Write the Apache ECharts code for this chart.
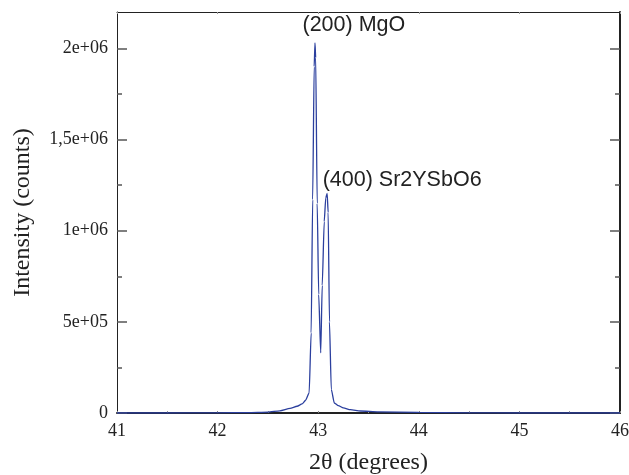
<!DOCTYPE html>
<html>
<head>
<meta charset="utf-8">
<script src="https://cdn.jsdelivr.net/npm/echarts@6/dist/echarts.min.js"></script>
<style>
  html, body { margin: 0; padding: 0; background: #fff; }
  #chart { width: 629px; height: 475px; }
</style>
</head>
<body>
<div id="chart"></div>
<script>
// X-ray diffraction scan around the MgO (200) / Sr2YSbO6 (400) reflections
const twoTheta = [
  41.0, 41.5, 42.0, 42.3, 42.5, 42.62, 42.72, 42.79, 42.84, 42.875,
  42.91, 42.93, 42.945, 42.96, 42.968, 42.975, 42.99, 43.005, 43.025,
  43.04, 43.06, 43.075, 43.089, 43.099, 43.112, 43.13, 43.16, 43.2,
  43.25, 43.32, 43.42, 43.6, 44.0, 44.5, 45.0, 46.0
];
const intensity = [
  0, 0, 800, 2500, 5000, 12000, 25000, 37000, 50000, 70000,
  110000, 440000, 1170000, 1900000, 2030000, 1950000, 1150000, 650000, 330000,
  700000, 1050000, 1180000, 1205000, 1100000, 500000, 130000, 55000, 40000,
  28000, 18000, 11000, 6000, 3000, 1000, 0, 0
];

const peakNames = ['(200) MgO', '(400) Sr2YSbO6'];

const xTicks = [41, 42, 43, 44, 45, 46];
const yTicks = [0, 500000, 1000000, 1500000, 2000000];
const yTickLabels = ['0', '5e+05', '1e+06', '1,5e+06', '2e+06'];
const yMinorTicks = [250000, 750000, 1250000, 1750000];

const points = twoTheta.map((t, i) => [t, intensity[i]]);

// local maxima of the scan above 5e5 counts, in 2θ order
const peakIdx = [];
for (let i = 1; i < intensity.length - 1; i++) {
  if (intensity[i] > intensity[i - 1] && intensity[i] >= intensity[i + 1] && intensity[i] > 500000) {
    peakIdx.push(i);
  }
}
const labelOffsets = [[-12, -6], [-4, -2]];

const serif = 'Liberation Serif, Times New Roman, serif';
const sans = 'Liberation Sans, Arial, Helvetica, sans-serif';

const chart = echarts.init(document.getElementById('chart'), null, { renderer: 'canvas' });

const yMajor = (pos, showLabels, lineW) => ({
  type: 'value', position: pos, min: 0, max: 2200000,
  axisLine: { show: true, onZero: false, lineStyle: { color: '#222', width: lineW } },
  axisTick: { show: true, inside: true, length: 10, customValues: yTicks, lineStyle: { color: '#555', width: 1.5 } },
  axisLabel: {
    show: showLabels, customValues: yTicks, margin: 9,
    fontFamily: serif, fontSize: 18, color: '#222',
    formatter: v => { const k = yTicks.indexOf(v); return k >= 0 ? yTickLabels[k] : ''; }
  },
  splitLine: { show: false },
  name: showLabels ? 'Intensity (counts)' : '',
  nameLocation: 'middle', nameGap: 82, nameRotate: 90,
  nameTextStyle: { fontFamily: serif, fontSize: 24, color: '#222' }
});
const yMinor = pos => ({
  type: 'value', position: pos, min: 0, max: 2200000,
  axisLine: { show: false },
  axisTick: { show: true, inside: true, length: 5, customValues: yMinorTicks, lineStyle: { color: '#555', width: 1.5 } },
  axisLabel: { show: false },
  splitLine: { show: false }
});

chart.setOption({
  animation: false,
  backgroundColor: '#fff',
  grid: { left: 117, right: 9, top: 12, bottom: 62, outerBoundsMode: 'none', containLabel: false },
  xAxis: [
    {
      type: 'value', position: 'bottom', min: 41, max: 46, interval: 1,
      axisLine: { show: true, onZero: false, lineStyle: { color: '#222', width: 2 } },
      axisTick: { show: true, inside: true, length: 2, customValues: xTicks, lineStyle: { color: '#888' } },
      minorTick: { show: true, splitNumber: 2, length: 2, lineStyle: { color: '#999' } },
      axisLabel: { margin: 9, fontFamily: serif, fontSize: 18, color: '#222' },
      splitLine: { show: false },
      name: '2θ (degrees)', nameLocation: 'middle', nameGap: 38,
      nameTextStyle: { fontFamily: serif, fontSize: 24, color: '#222' }
    },
    {
      type: 'value', position: 'top', min: 41, max: 46, interval: 1,
      axisLine: { show: true, onZero: false, lineStyle: { color: '#222', width: 1 } },
      axisTick: { show: true, inside: true, length: 2, lineStyle: { color: '#999' } },
      axisLabel: { show: false },
      splitLine: { show: false }
    }
  ],
  yAxis: [yMajor('left', true, 1), yMinor('left'), yMajor('right', false, 2), yMinor('right')],
  series: [{
    type: 'line',
    data: points,
    xAxisIndex: 0, yAxisIndex: 0,
    showSymbol: false,
    smooth: 0.2, smoothMonotone: 'x',
    lineStyle: { color: '#2b3f9e', width: 1.3 },
    markPoint: {
      symbol: 'circle', symbolSize: 1,
      itemStyle: { color: 'rgba(0,0,0,0)' },
      data: peakIdx.map((idx, k) => ({
        coord: points[idx],
        label: {
          show: true, formatter: peakNames[k],
          position: labelOffsets[k], align: 'left', verticalAlign: 'bottom',
          fontFamily: sans, fontSize: 21.5, color: '#222'
        }
      }))
    }
  }]
});
</script>
</body>
</html>
